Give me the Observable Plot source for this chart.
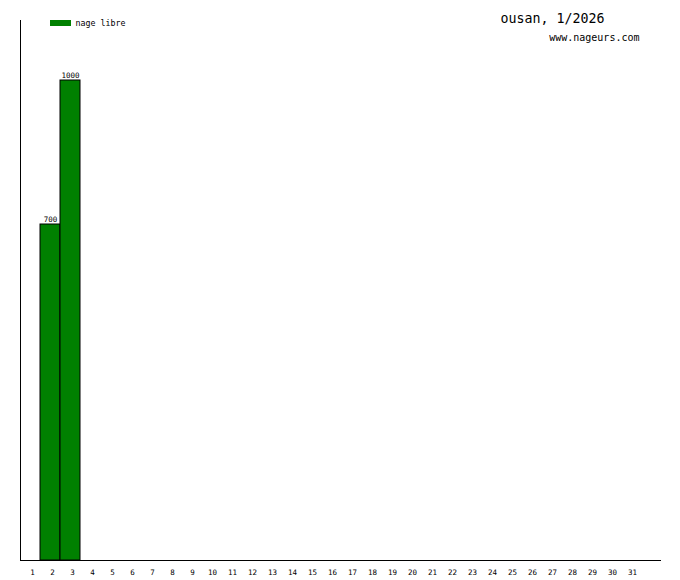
<!DOCTYPE html>
<html>
<head>
<meta charset="utf-8">
<script src="https://cdn.jsdelivr.net/npm/d3@7"></script>
<script src="https://cdn.jsdelivr.net/npm/@observablehq/plot@0.6"></script>
<style>
  body { margin: 0; background: #fff; }
  svg { font-family: "DejaVu Sans Mono", monospace; }
</style>
</head>
<body>
<div id="chart"></div>
<script>
const days = d3.range(1, 32);
const slots = d3.range(1, 33);
const barDays = [2, 3];
const barValues = [700, 1000];
const seriesName = "nage libre";
const title = "ousan, 1/2026";
const site = "www.nageurs.com";

const data = barDays.map((d, i) => ({day: d, value: barValues[i]}));

const plot = Plot.plot({
  width: 680,
  height: 580,
  marginLeft: 20,
  marginRight: 20,
  marginTop: 20,
  marginBottom: 20,
  style: {fontFamily: "DejaVu Sans Mono, monospace", background: "#fff"},
  x: {type: "band", domain: slots, padding: 0, axis: null},
  y: {domain: [0, 1125], axis: null},
  marks: [
    Plot.barY(data, {x: "day", y: "value", fill: "#008000", stroke: "#000", strokeWidth: 1}),
    Plot.text(data, {x: "day", y: "value", text: d => String(d.value), dy: -3, lineAnchor: "bottom", fontSize: 7.5, fill: "#000"}),
    Plot.axisX({ticks: days, tickSize: 0, tickPadding: 9, dx: 2, fontSize: 7.5, fill: "#000", anchor: "bottom", label: null}),
    Plot.frame({anchor: "left", stroke: "#000"}),
    Plot.frame({anchor: "bottom", stroke: "#000"}),
    Plot.text([title], {frameAnchor: "top-right", text: d => d, dx: -56, dy: -7, fontSize: 13.3, textAnchor: "end", fill: "#000"}),
    Plot.text([site], {frameAnchor: "top-right", text: d => d, dx: -21, dy: 13, fontSize: 10, textAnchor: "end", fill: "#000"}),
    Plot.text([seriesName], {frameAnchor: "top-left", text: d => d, dx: 55, dy: 0, fontSize: 8.3, textAnchor: "start", fill: "#000"})
  ]
});

// legend swatch
d3.select(plot).append("rect")
  .attr("x", 50).attr("y", 20).attr("width", 21).attr("height", 6)
  .attr("fill", "#008000");

document.getElementById("chart").appendChild(plot);
</script>
</body>
</html>
